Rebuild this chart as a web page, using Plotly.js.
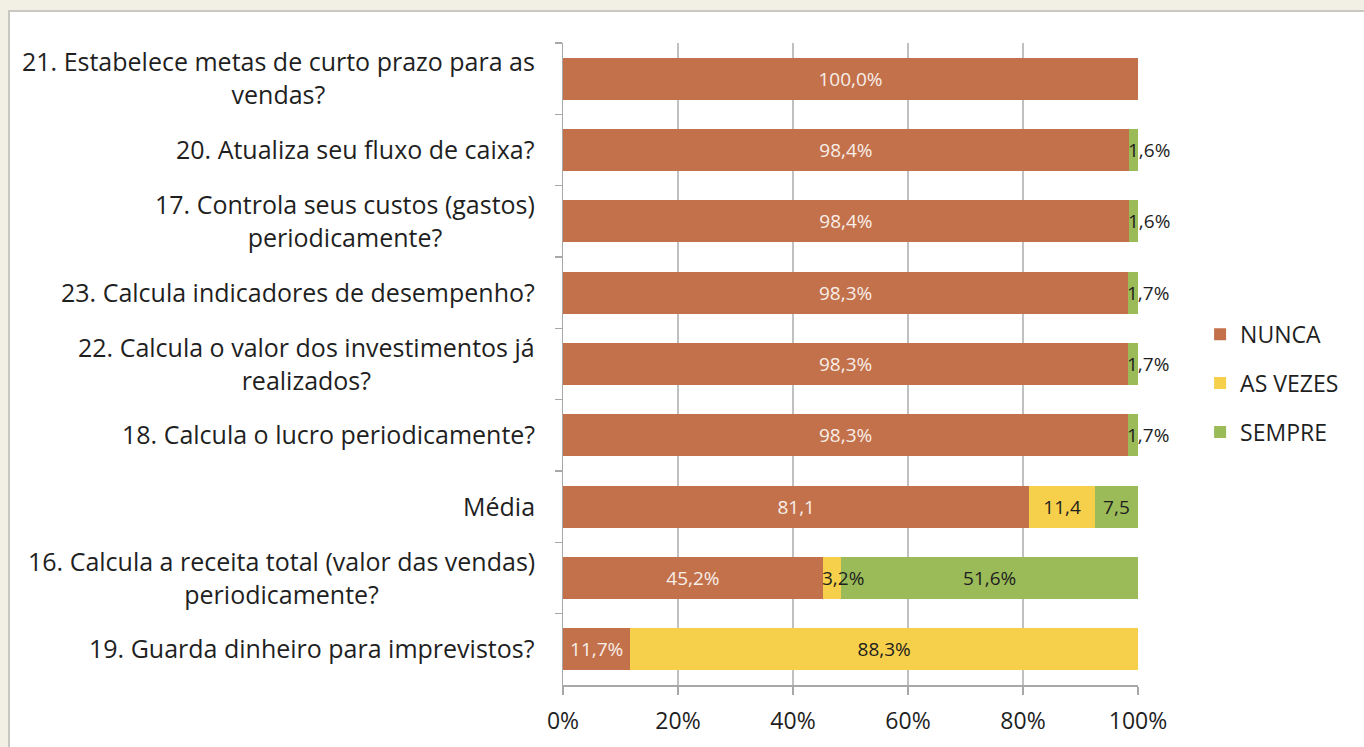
<!DOCTYPE html>
<html>
<head>
<meta charset="utf-8">
<script src="https://cdn.plot.ly/plotly-3.0.1.min.js"></script>
<style>
  html, body { margin: 0; padding: 0; background: #f2f0e5; width: 1364px; height: 747px; overflow: hidden; }
  #chart { position: absolute; left: 8px; top: 10px; width: 1354px; height: 735px;
           border-left: 2px solid #c9c8c0; border-top: 2px solid #c9c8c0; background: #fff; }
</style>
</head>
<body>
<div id="chart"></div>
<script>
// Categories, top to bottom
const categories = [
  "21. Estabelece metas de curto prazo para as<br>vendas?",
  "20. Atualiza seu fluxo de caixa?",
  "17. Controla seus custos (gastos)<br>periodicamente?",
  "23. Calcula indicadores de desempenho?",
  "22. Calcula o valor dos investimentos já<br>realizados?",
  "18. Calcula o lucro periodicamente?",
  "Média",
  "16. Calcula a receita total (valor das vendas)<br>periodicamente?",
  "19. Guarda dinheiro para imprevistos?"
];
const nunca   = [100.0, 98.4, 98.4, 98.3, 98.3, 98.3, 81.1, 45.2, 11.7];
const asVezes = [0,     0,    0,    0,    0,    0,    11.4, 3.2,  88.3];
const sempre  = [0,     1.6,  1.6,  1.7,  1.7,  1.7,  7.5,  51.6, 0];
const isMean  = [false, false, false, false, false, false, true, false, false];
const seriesNames = ["NUNCA", "AS VEZES", "SEMPRE"];
const seriesColors = ["#c3714b", "#f6d04a", "#9bbb59"];

const FONT = "'Open Sans', sans-serif";
const ids = categories.map((c, i) => "c" + i);
const fmt = (v, i) => v.toFixed(1).replace(".", ",") + (isMean[i] ? "" : "%");

const series = [nunca, asVezes, sempre];
const textColors = ["#f8eee8", "#1e1e1e", "#1e1e1e"];
const SMALL = 5;

const traces = series.map((vals, s) => ({
  type: "bar",
  orientation: "h",
  name: seriesNames[s],
  legendgroup: "g" + s,
  y: ids,
  x: vals,
  marker: { color: seriesColors[s], line: { width: 0 } },
  text: vals.map((v, i) => (v >= SMALL ? fmt(v, i) : "")),
  textposition: "inside",
  insidetextanchor: "middle",
  constraintext: "none",
  textfont: { family: FONT, size: 19, color: textColors[s] },
  hoverinfo: "skip",
  cliponaxis: false
}));

const annotations = [];
// Category labels (centered multi-line)
ids.forEach((id, i) => {
  annotations.push({
    xref: "paper", yref: "y", x: 0, y: id,
    xanchor: "right", yanchor: "middle", xshift: -26, yshift: 1,
    text: categories[i], showarrow: false, align: "center",
    font: { family: FONT, size: 25, color: "#1f1f1f" }
  });
});
// Labels for small segments, placed from the segment start
series.forEach((vals, s) => {
  vals.forEach((v, i) => {
    if (v > 0 && v < SMALL) {
      let start = 0;
      for (let k = 0; k < s; k++) start += series[k][i];
      annotations.push({
        xref: "x", yref: "y", x: start, y: ids[i],
        xanchor: "left", yanchor: "middle", xshift: -3,
        text: fmt(v, i), showarrow: false,
        font: { family: FONT, size: 19, color: "#1e1e1e" }
      });
    }
  });
});

const layout = {
  width: 1354, height: 735,
  margin: { l: 553, r: 226, t: 31, b: 62 },
  paper_bgcolor: "#ffffff",
  plot_bgcolor: "#ffffff",
  barmode: "stack",
  bargap: 0.41,
  showlegend: true,
  legend: {
    x: 1.108, y: 0.47, xanchor: "left", yanchor: "middle",
    traceorder: "grouped", tracegroupgap: 16,
    font: { family: FONT, size: 23, color: "#1f1f1f" },
    itemwidth: 30, bgcolor: "rgba(0,0,0,0)"
  },
  xaxis: {
    range: [0, 100], dtick: 20, ticksuffix: "%",
    showgrid: true, gridcolor: "#c0c0c0", gridwidth: 1.5,
    showline: true, linecolor: "#a8a8a8", linewidth: 1.5,
    ticks: "outside", ticklen: 8, tickcolor: "#a8a8a8", tickwidth: 1.5,
    ticklabelstandoff: 7,
    tickfont: { family: FONT, size: 23, color: "#1f1f1f" },
    zeroline: false, fixedrange: true
  },
  yaxis: {
    type: "category", autorange: "reversed",
    showticklabels: false,
    showline: true, linecolor: "#a8a8a8", linewidth: 1.5,
    ticks: "outside", tickson: "boundaries", ticklen: 7, tickcolor: "#a8a8a8", tickwidth: 1.5,
    showgrid: false, zeroline: false, fixedrange: true
  },
  annotations: annotations,
  font: { family: FONT }
};

Plotly.newPlot("chart", traces, layout, { displayModeBar: false, staticPlot: true });
</script>
</body>
</html>
